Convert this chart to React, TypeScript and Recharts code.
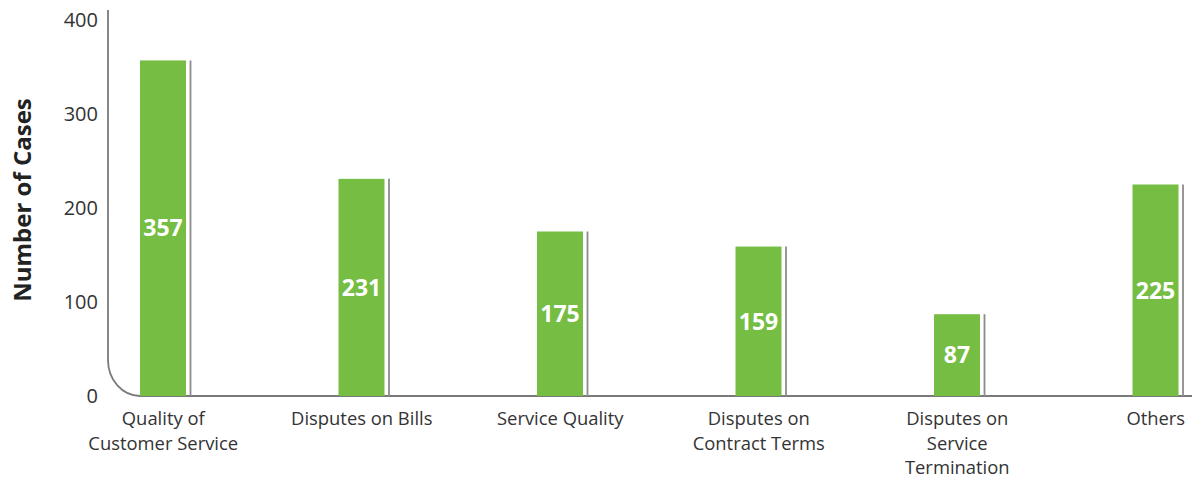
import React from 'react';
import { BarChart, Bar, XAxis, YAxis, LabelList, Customized } from 'recharts';

const categories = [
  'Quality of Customer Service',
  'Disputes on Bills',
  'Service Quality',
  'Disputes on Contract Terms',
  'Disputes on Service Termination',
  'Others',
];
const tickLines = [
  ['Quality of', 'Customer Service'],
  ['Disputes on Bills'],
  ['Service Quality'],
  ['Disputes on', 'Contract Terms'],
  ['Disputes on', 'Service', 'Termination'],
  ['Others'],
];
const cases = [357, 231, 175, 159, 87, 225];
const yTicks = [0, 100, 200, 300, 400];
const yTitle = 'Number of Cases';

const data = categories.map((c, i) => ({ name: c, value: cases[i], idx: i }));

const GREEN = '#76bd43';
const TEXT = '#333333';
const AXIS = '#7a7a7a';
const FONT = '"Open Sans", "DejaVu Sans", sans-serif';

const BarShape = (props: any) => {
  const { x, y, width, height } = props;
  return (
    <g>
      <rect x={x} y={y} width={width} height={height} fill={GREEN} />
      <line x1={x + width + 4.5} x2={x + width + 4.5} y1={y} y2={y + height} stroke="#8c8c8c" strokeWidth={1.8} />
    </g>
  );
};

const ValueLabel = (props: any) => {
  const { x, y, width, height, value } = props;
  return (
    <text x={x + width / 2} y={y + height / 2} dy="0.36em" textAnchor="middle" fill="#ffffff" fontWeight={700} fontSize={23} fontFamily={FONT}>
      {value}
    </text>
  );
};

const XTick = (props: any) => {
  const { x, payload } = props;
  const lines = tickLines[payload.index] || [String(payload.value)];
  return (
    <text x={x} y={425} textAnchor="middle" fill={TEXT} fontSize={18.4} fontFamily={FONT}>
      {lines.map((l: string, i: number) => (
        <tspan key={i} x={x} dy={i === 0 ? 0 : 24.5}>{l}</tspan>
      ))}
    </text>
  );
};

const YTick = (props: any) => {
  const { y, payload } = props;
  return (
    <text x={98} y={y} dy="0.36em" textAnchor="end" fill={TEXT} fontSize={20} fontFamily={FONT}>
      {payload.value}
    </text>
  );
};

const Decor = () => (
  <g>
    <path d="M108,10 L108,360 A32,36 0 0 0 140,396 L1192,396" fill="none" stroke={AXIS} strokeWidth={1.8} />
    <text transform="translate(31,200) rotate(-90)" textAnchor="middle" fill="#222" fontWeight={700} fontSize={24} fontFamily={FONT}>
      {yTitle}
    </text>
  </g>
);

export default function App() {
  return (
    <div style={{ position: 'absolute', left: 0, top: 0, width: 1192, height: 479, overflow: 'hidden', background: '#fff' }}>
      <BarChart width={1260} height={479} data={data} margin={{ top: 20, right: 5, bottom: 0, left: 0 }}>
        <Customized component={Decor} />
        <YAxis domain={[0, 400]} ticks={yTicks} width={64} axisLine={false} tickLine={false} tick={<YTick />} interval={0} />
        <XAxis dataKey="name" height={83} axisLine={false} tickLine={false} tick={<XTick />} interval={0} />
        <Bar dataKey="value" barSize={46} shape={<BarShape />} isAnimationActive={false}>
          <LabelList dataKey="value" content={<ValueLabel />} />
        </Bar>
      </BarChart>
    </div>
  );
}
